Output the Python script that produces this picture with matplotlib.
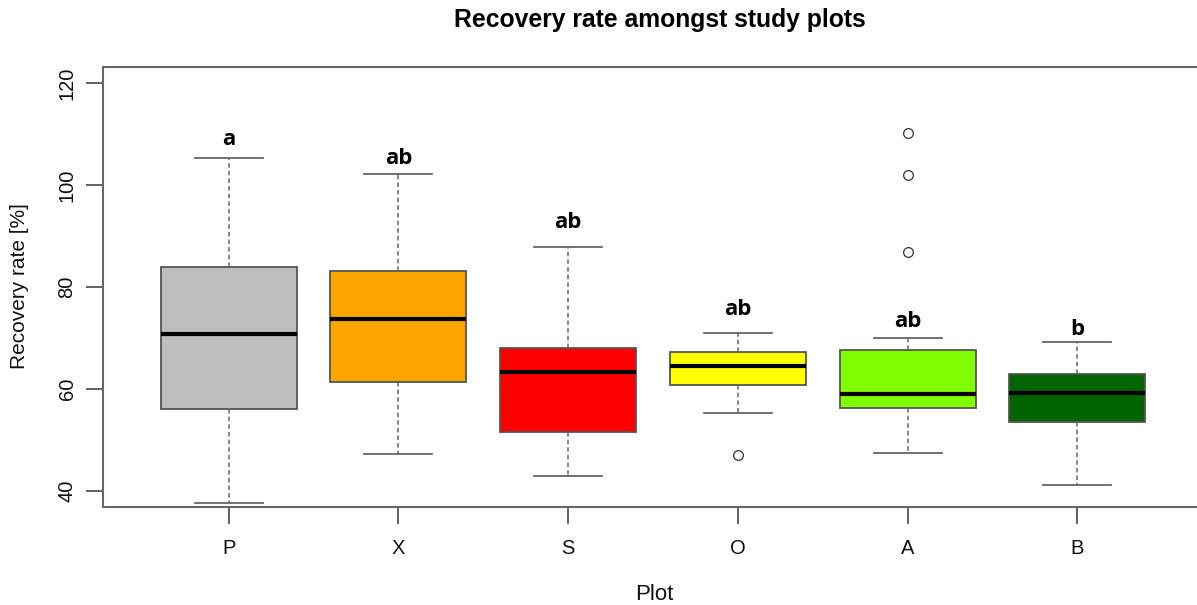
import matplotlib
matplotlib.use("Agg")
import matplotlib.pyplot as plt

# box stats (Recovery rate, %)
plots = ['P', 'X', 'S', 'O', 'A', 'B']
colors = ['#BEBEBE', '#FFA500', '#FF0000', '#FFFF00', '#7FFF00', '#006400']
whislo = [37.6, 47.2, 42.9, 55.2, 47.5, 41.1]
q1 = [56.0, 61.3, 51.5, 60.7, 56.3, 53.4]
med = [70.8, 73.8, 63.4, 64.5, 59.0, 59.2]
q3 = [84.0, 83.1, 68.1, 67.2, 67.7, 62.9]
whishi = [105.3, 102.2, 87.9, 71.0, 70.0, 69.2]
fliers = [[], [], [], [47.0], [110.3, 101.9, 86.9], []]

# significance letters and where they sit
letters = ['a', 'ab', 'ab', 'ab', 'ab', 'b']
letter_y = [109.0, 105.2, 92.6, 75.6, 73.2, 71.6]

plt.rcParams['font.family'] = ['Liberation Sans', 'DejaVu Sans']

fig = plt.figure(figsize=(11.97, 6.05), dpi=100)
W, H = 1197, 605
left, right, top, bottom = 103, 1203, 67, 507
ax = fig.add_axes([left / W, 1 - bottom / H, (right - left) / W, (bottom - top) / H])

stats = []
for i in range(len(plots)):
    stats.append(dict(label=plots[i], whislo=whislo[i], q1=q1[i], med=med[i],
                      q3=q3[i], whishi=whishi[i], fliers=fliers[i]))

pos = list(range(1, len(plots) + 1))
bp = ax.bxp(stats, positions=pos, widths=0.8, patch_artist=True, showfliers=True,
            boxprops=dict(edgecolor='#555555', linewidth=1.3),
            medianprops=dict(color='black', linewidth=3, solid_capstyle='butt'),
            whiskerprops=dict(color='#666666', linestyle=(0, (3, 2)), linewidth=1.1),
            capprops=dict(color='#666666', linewidth=1.3),
            capwidths=0.4,
            flierprops=dict(marker='o', markerfacecolor='white', markeredgecolor='#333333',
                            markersize=7, markeredgewidth=0.9))
for patch, c in zip(bp['boxes'], colors):
    patch.set_facecolor(c)

for i in range(len(plots)):
    ax.text(pos[i], letter_y[i], letters[i], ha='center', va='center',
            fontsize=16, fontweight='bold', family=['Open Sans', 'DejaVu Sans'])

ax.set_xlim(0.26, 6.74)
ax.set_ylim(36.8, 123.2)
ax.set_yticks([40, 60, 80, 100, 120])
ax.set_xticks(pos)
ax.set_xticklabels(plots)
for lab in ax.get_yticklabels():
    lab.set_rotation(90)
    lab.set_va('center')

ax.tick_params(axis='both', length=12, width=1.3, color='#555555', labelsize=14.5, colors='#111111')
ax.tick_params(axis='x', pad=11)
ax.tick_params(axis='y', pad=7)
for s in ax.spines.values():
    s.set_color('#666666')
    s.set_linewidth(1.5)

fig.text(660 / W, 1 - 20 / H, 'Recovery rate amongst study plots', ha='center', va='center',
         fontsize=17.8, fontweight='bold')
fig.text(654 / W, 1 - 594 / H, 'Plot', ha='center', va='center', fontsize=16, color='#111111')
fig.text(20 / W, 1 - 286 / H, 'Recovery rate [%]', ha='center', va='center', rotation=90,
         fontsize=15, color='#111111')

fig.savefig('out.png', dpi=100)
